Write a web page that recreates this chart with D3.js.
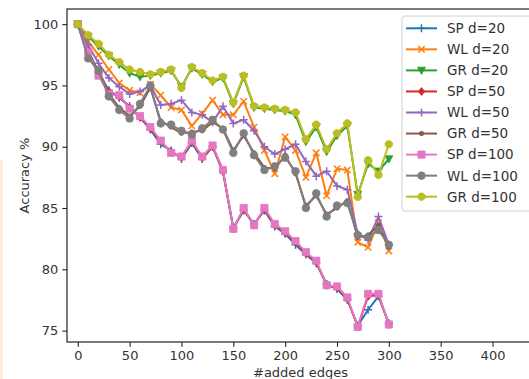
<!DOCTYPE html>
<html><head><meta charset="utf-8">
<script src="https://cdn.jsdelivr.net/npm/d3@7"></script>
<style>html,body{margin:0;padding:0;background:#fff;overflow:hidden}svg{display:block}</style>
</head><body>
<svg id="chart" width="529" height="379"></svg>
<script>
const edges = [0,10,20,30,40,50,60,70,80,90,100,110,120,130,140,150,160,170,180,190,200,210,220,230,240,250,260,270,280,290,300];
const sp20  = [100,97.9,96.0,94.6,94.0,93.3,92.4,91.4,90.2,89.7,89.0,90.3,89.0,90.0,88.0,83.4,84.8,83.7,84.8,83.5,82.9,82.0,81.2,80.5,78.8,78.4,77.5,75.4,76.7,77.8,75.6];
const wl20  = [100,98.6,97.5,96.3,95.2,94.6,94.4,95.1,94.2,93.2,93.0,91.7,92.7,93.8,92.6,92.6,93.7,91.6,89.7,87.8,90.8,89.7,87.5,89.5,86.0,88.2,88.1,82.2,81.8,83.8,81.5];
const gr20  = [100,99.0,98.2,97.4,96.7,96.0,95.7,95.8,96.0,96.2,94.9,96.4,95.9,95.3,95.6,93.5,95.7,93.2,93.1,93.0,92.9,92.6,90.4,91.6,89.6,90.9,91.7,86.1,88.6,88.0,89.0];
const sp50  = [100,97.8,95.9,94.5,94.1,93.2,92.4,91.5,90.4,89.6,89.1,90.4,89.1,90.0,88.0,83.3,84.9,83.6,84.9,83.6,83.0,82.2,81.3,80.6,78.7,78.5,77.6,75.3,77.8,77.9,75.5];
const wl50  = [100,98.3,96.8,95.6,94.9,94.3,94.5,95.0,93.4,93.5,93.8,92.8,92.6,92.0,93.3,91.9,92.2,91.3,90.0,89.4,89.8,90.2,88.8,87.6,88.0,86.8,86.5,82.9,82.4,84.3,82.0];
const gr50  = [100,97.4,96.3,94.3,93.2,92.5,93.3,94.8,92.1,91.6,91.1,91.2,91.3,92.0,91.5,89.7,90.9,89.5,88.3,88.2,89.3,87.8,85.2,86.0,84.5,85.0,85.6,82.6,82.8,83.6,81.8];
const sp100 = [100,97.7,95.8,94.3,94.2,93.1,92.5,91.6,90.5,89.5,89.2,90.5,89.2,90.1,88.1,83.3,85.0,83.6,85.0,83.7,83.1,82.3,81.4,80.7,78.7,78.6,77.7,75.3,78.0,78.0,75.5];
const wl100 = [100,97.2,96.2,94.1,93.0,92.3,93.5,95.0,91.9,91.8,91.3,91.0,91.5,92.2,91.4,89.5,91.1,89.3,88.1,88.4,89.1,88.0,85.0,86.2,84.3,85.2,85.4,82.8,82.6,83.2,82.0];
const gr100 = [100,99.1,98.4,97.5,96.9,96.3,96.1,95.9,96.1,96.3,94.8,96.5,96.0,95.4,95.7,93.6,95.8,93.3,93.2,93.1,93.0,92.8,90.6,91.8,89.8,91.1,91.9,85.9,88.9,87.7,90.2];
const seriesNames = ["SP d=20","WL d=20","GR d=20","SP d=50","WL d=50","GR d=50","SP d=100","WL d=100","GR d=100"];
const seriesValues = [sp20,wl20,gr20,sp50,wl50,gr50,sp100,wl100,gr100];
const xTicks = [0,50,100,150,200,250,300,350,400];
const yTicks = [75,80,85,90,95,100];

const colors = ["#1f77b4","#ff7f0e","#2ca02c","#d62728","#9467bd","#8c564b","#e377c2","#7f7f7f","#bcbd22"];
const markers = ["plus","x","tridown","diamond","plus","dot","square","circle","octagon"];

const svg = d3.select("#chart");
const L = 67, R = 534, T = 9, B = 342;
const x = d3.scaleLinear().domain([-10.4, 440]).range([L, R]);
const y = d3.scaleLinear().domain([74.07, 101.235]).range([B, T]);

// faint edge artifact at far left
svg.append("line").attr("x1",1.5).attr("x2",1.5).attr("y1",160).attr("y2",379)
  .attr("stroke","#fde6cf").attr("stroke-width",2);

const clip = svg.append("clipPath").attr("id","pc").append("rect")
  .attr("x",L).attr("y",T).attr("width",R-L).attr("height",B-T);

function markerPath(type){
  const s = 4;
  switch(type){
    case "plus": return `M${-s},0H${s}M0,${-s}V${s}`;
    case "x": return `M${-s*0.8},${-s*0.8}L${s*0.8},${s*0.8}M${-s*0.8},${s*0.8}L${s*0.8},${-s*0.8}`;
    case "tridown": return `M${-s},${-s*0.8}L${s},${-s*0.8}L0,${s}Z`;
    case "diamond": return `M0,${-s}L${s*0.8},0L0,${s}L${-s*0.8},0Z`;
    case "dot": return d3.arc()({innerRadius:0,outerRadius:2.2,startAngle:0,endAngle:2*Math.PI});
    case "square": return `M${-3.6},${-3.6}H3.6V3.6H-3.6Z`;
    case "circle": return d3.arc()({innerRadius:0,outerRadius:3.8,startAngle:0,endAngle:2*Math.PI});
    case "octagon": {
      const pts = d3.range(8).map(i=>{const a=Math.PI/8+i*Math.PI/4;return [3.9*Math.cos(a),3.9*Math.sin(a)];});
      return "M"+pts.map(p=>p.join(",")).join("L")+"Z";
    }
  }
}
const stroked = t => t==="plus"||t==="x";

const plot = svg.append("g").attr("clip-path","url(#pc)");
const line = d3.line().x((d,i)=>x(edges[i])).y(d=>y(d));
seriesValues.forEach((vals,k)=>{
  const g = plot.append("g");
  g.append("path").datum(vals).attr("d",line).attr("fill","none")
    .attr("stroke",colors[k]).attr("stroke-width",2).attr("stroke-linejoin","round");
  g.selectAll("path.m").data(vals).join("path").attr("class","m")
    .attr("transform",(d,i)=>`translate(${x(edges[i])},${y(d)})`)
    .attr("d",markerPath(markers[k]))
    .attr("fill",stroked(markers[k])?"none":colors[k])
    .attr("stroke",colors[k]).attr("stroke-width",stroked(markers[k])?1.5:0.8);
});

// axes
const font = "'DejaVu Sans', sans-serif";
const xAxis = svg.append("g").attr("transform",`translate(0,${B})`)
  .call(d3.axisBottom(x).tickValues(xTicks).tickSize(4.7).tickPadding(4.5));
const yAxis = svg.append("g").attr("transform",`translate(${L},0)`)
  .call(d3.axisLeft(y).tickValues(yTicks).tickSize(4.7).tickPadding(4));
[xAxis,yAxis].forEach(a=>{
  a.select(".domain").remove();
  a.selectAll("line").attr("stroke","#222").attr("stroke-width",1.1);
  a.selectAll("text").attr("font-family",font).attr("font-size","13px").attr("fill","#333");
});
// frame
svg.append("rect").attr("x",L).attr("y",T).attr("width",R-L).attr("height",B-T)
  .attr("fill","none").attr("stroke","#222").attr("stroke-width",1.2);

svg.append("text").attr("x",(L+R)/2).attr("y",377).attr("text-anchor","middle")
  .attr("font-family",font).attr("font-size","13px").attr("fill","#333").text("#added edges");
svg.append("text").attr("transform",`translate(29,${(T+B)/2}) rotate(-90)`).attr("text-anchor","middle")
  .attr("font-family",font).attr("font-size","13px").attr("fill","#333").text("Accuracy %");

// legend
const lg = svg.append("g");
lg.append("rect").attr("x",402).attr("y",16).attr("width",140).attr("height",195).attr("rx",3)
  .attr("fill","#fff").attr("fill-opacity",0.85).attr("stroke","#d0d0d0");
seriesNames.forEach((name,k)=>{
  const cy = 28.3 + k*21.05;
  lg.append("line").attr("x1",406).attr("x2",437).attr("y1",cy).attr("y2",cy)
    .attr("stroke",colors[k]).attr("stroke-width",2);
  lg.append("path").attr("transform",`translate(421.5,${cy})`).attr("d",markerPath(markers[k]))
    .attr("fill",stroked(markers[k])?"none":colors[k]).attr("stroke",colors[k])
    .attr("stroke-width",stroked(markers[k])?1.5:0.8);
  lg.append("text").attr("x",447).attr("y",cy).attr("dy","0.36em")
    .attr("font-family",font).attr("font-size","13.5px").attr("fill","#333").text(name);
});
</script>
</body></html>
